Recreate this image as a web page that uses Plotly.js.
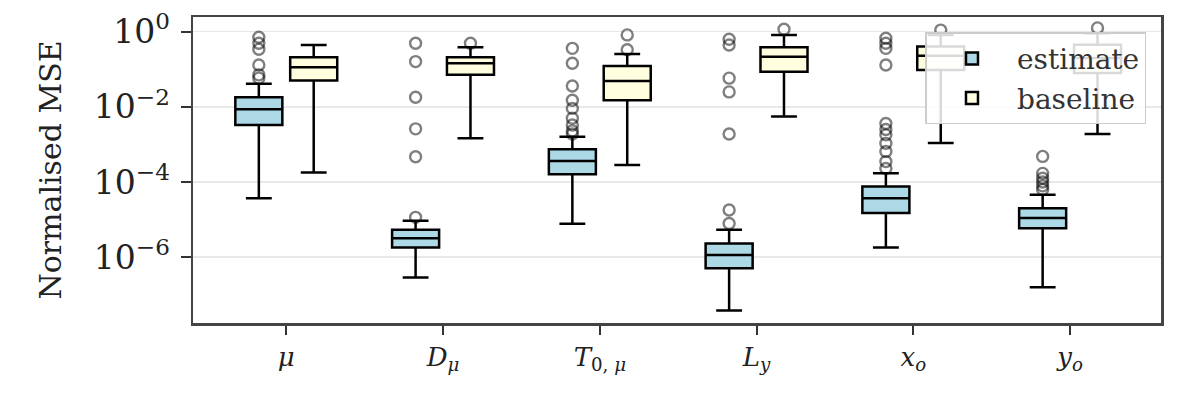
<!DOCTYPE html>
<html>
<head>
<meta charset="utf-8">
<script src="https://cdn.plot.ly/plotly-3.0.1.min.js"></script>
<style>
  html, body { margin: 0; padding: 0; background: #fff; }
  #chart { width: 1200px; height: 404px; }
</style>
</head>
<body>
<div id="chart"></div>
<script>
// categories (tick labels)
var tickLabels = [
  "<i>μ</i>",
  "<i>D</i><sub><i>μ</i></sub>",
  "<i>T</i><sub>0, <i>μ</i></sub>",
  "<i>L</i><sub><i>y</i></sub>",
  "<i>x</i><sub><i>o</i></sub>",
  "<i>y</i><sub><i>o</i></sub>"
];

// estimate box stats
var estLow = [3.7e-5, 2.9e-7, 7.8e-6, 3.8e-8, 1.8e-6, 1.6e-7];
var estQ1  = [3.3e-3, 1.8e-6, 1.6e-4, 5.1e-7, 1.5e-5, 5.9e-6];
var estMed = [8.6e-3, 3.2e-6, 3.6e-4, 1.15e-6, 3.7e-5, 1.1e-5];
var estQ3  = [1.8e-2, 5.4e-6, 7.4e-4, 2.3e-6, 7.6e-5, 2.0e-5];
var estUp  = [4.1e-2, 9.3e-6, 1.6e-3, 5.4e-6, 1.7e-4, 4.6e-5];

// baseline box stats
var baseLow = [1.8e-4, 1.46e-3, 2.85e-4, 5.5e-3, 1.1e-3, 1.9e-3];
var baseQ1  = [5.0e-2, 7.1e-2, 1.5e-2, 8.6e-2, 9.5e-2, 7.9e-2];
var baseMed = [0.113, 0.145, 4.9e-2, 0.216, 0.23, 0.2];
var baseQ3  = [0.208, 0.208, 0.122, 0.385, 0.40, 0.45];
var baseUp  = [0.443, 0.385, 0.255, 0.817, 0.81, 0.91];

// outliers: category index + value
var estOutCat = [0,0,0,0,0,0, 1,1,1,1,1,1, 2,2,2,2,2,2,2,2,2, 3,3,3,3,3,3,3,
                 4,4,4,4,4,4,4,4,4,4,4, 5,5,5,5,5,5];
var estOutVal = [0.71,0.49,0.34,0.13,0.071,0.058,
                 0.49,0.16,0.018,2.6e-3,4.7e-4,1.15e-5,
                 0.36,0.145,0.036,0.015,9.1e-3,5.0e-3,3.3e-3,2.3e-3,1.9e-3,
                 0.63,0.44,0.058,0.025,1.9e-3,1.8e-5,7.9e-6,
                 0.67,0.49,0.36,0.13,3.6e-3,2.5e-3,1.8e-3,1.07e-3,6.5e-4,3.5e-4,2.3e-4,
                 4.8e-4,1.7e-4,1.26e-4,1.0e-4,7.9e-5,6.3e-5];
var baseOutCat = [1, 2, 2, 3, 4, 5];
var baseOutVal = [0.49, 0.82, 0.33, 1.16, 1.1, 1.26];

var OFF = 0.175;
var catIdx = tickLabels.map(function (_, i) { return i; });
function shift(arr, d) { return arr.map(function (v) { return v + d; }); }

var boxStyle = {
  type: "box",
  width: 0.3,
  whiskerwidth: 0.55,
  boxpoints: false,
  line: { color: "#000", width: 2.5 },
  hoverinfo: "skip"
};

var estimate = Object.assign({}, boxStyle, {
  name: "estimate",
  x: shift(catIdx, -OFF),
  lowerfence: estLow, q1: estQ1, median: estMed, q3: estQ3, upperfence: estUp,
  fillcolor: "#add8e6"
});
var baseline = Object.assign({}, boxStyle, {
  name: "baseline",
  x: shift(catIdx, OFF),
  lowerfence: baseLow, q1: baseQ1, median: baseMed, q3: baseQ3, upperfence: baseUp,
  fillcolor: "#ffffe0"
});

var flier = {
  symbol: "circle-open",
  size: 11,
  color: "rgba(0,0,0,0.5)",
  line: { width: 2.4, color: "rgba(0,0,0,0.5)" }
};
var estFliers = {
  type: "scatter", mode: "markers", showlegend: false, hoverinfo: "skip",
  x: shift(estOutCat, -OFF), y: estOutVal, marker: flier
};
var baseFliers = {
  type: "scatter", mode: "markers", showlegend: false, hoverinfo: "skip",
  x: shift(baseOutCat, OFF), y: baseOutVal, marker: flier
};

var font = "DejaVu Serif, serif";
var layout = {
  width: 1200,
  height: 404,
  margin: { l: 193, r: 39, t: 17, b: 81 },
  paper_bgcolor: "#fff",
  plot_bgcolor: "#fff",
  font: { family: font, size: 26, color: "#222" },
  boxmode: "overlay",
  showlegend: true,
  xaxis: {
    range: [-0.595, 5.58],
    tickmode: "array",
    tickvals: catIdx,
    ticktext: tickLabels,
    ticks: "outside", ticklen: 9, tickwidth: 2, tickcolor: "#333",
    showgrid: false, zeroline: false,
    showline: true, linecolor: "#444", linewidth: 2.5, mirror: true,
    tickfont: { size: 26 }
  },
  yaxis: {
    type: "log",
    range: [-7.75, 0.39],
    tickmode: "array",
    tickvals: [1, 1e-2, 1e-4, 1e-6],
    ticktext: ["10<sup>0</sup>", "10<sup>−2</sup>", "10<sup>−4</sup>", "10<sup>−6</sup>"],
    ticks: "outside", ticklen: 10, tickwidth: 2, tickcolor: "#333",
    ticklabelstandoff: 4,
    showgrid: true, gridcolor: "#e8e8e8", gridwidth: 1.5,
    zeroline: false,
    showline: true, linecolor: "#444", linewidth: 2.5, mirror: true,
    tickfont: { size: 33 },
    title: { text: "Normalised MSE", font: { size: 30 }, standoff: 24 }
  },
  legend: {
    x: 0.985, y: 0.95, xanchor: "right", yanchor: "top",
    bgcolor: "rgba(255,255,255,0.85)",
    bordercolor: "#cccccc", borderwidth: 1.5,
    font: { size: 28, color: "#333" },
    itemwidth: 80
  }
};

Plotly.newPlot("chart", [estimate, baseline, estFliers, baseFliers], layout, { staticPlot: true });
</script>
</body>
</html>
